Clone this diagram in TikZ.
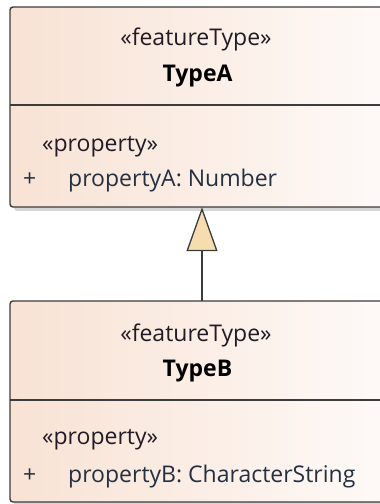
\documentclass[tikz,border=0pt]{standalone}
\usepackage{fontspec}
\setmainfont{Open Sans}
\usetikzlibrary{arrows.meta}
\definecolor{boxL}{HTML}{F8E2D4}
\definecolor{boxR}{HTML}{FEFAF8}
\definecolor{edge}{HTML}{3C3C3C}
\definecolor{triA}{HTML}{F5DDB0}
\definecolor{txt}{HTML}{221A24}
\definecolor{attr}{HTML}{243040}
\tikzset{
  classbox/.style={draw=edge, line width=1.4pt, rounded corners=3pt, left color=boxL, right color=boxR},
  shadowbox/.style={fill=black!16, rounded corners=3pt},
  divider/.style={draw=edge, line width=1.4pt},
  stereo/.style={anchor=base, font=\fontsize{23}{26}\selectfont, text=txt, inner sep=0pt},
  cname/.style={anchor=base, font=\fontsize{23}{26}\selectfont\bfseries, text=black, inner sep=0pt},
  attrtxt/.style={anchor=base west, font=\fontsize{23}{26}\selectfont, text=attr, inner sep=0pt},
  gen/.style={draw=edge, line width=1.3pt, -{Triangle[length=44pt,width=31pt,fill=triA]}}
}
\begin{document}
\begin{tikzpicture}[x=1pt,y=1pt]
\useasboundingbox (0,0) rectangle (380,504);
\clip (0,0) rectangle (380,504);
% shadows
\fill[shadowbox] (14,293) rectangle (394,493);
\fill[shadowbox] (14,-2) rectangle (394,199);
% boxes
\draw[classbox] (10,297) rectangle (390,497);
\draw[classbox] (10,2) rectangle (390,203);
\node[inner sep=0pt, minimum width=380pt, minimum height=200pt] (A) at (200,397) {};
\node[inner sep=0pt, minimum width=380pt, minimum height=201pt] (B) at (200,102.5) {};
\draw[divider] (10,399) -- (390,399);
\draw[divider] (10,104) -- (390,104);
% texts A
\node[stereo] (Ast) at (196,458) {«featureType»};
\node[cname] (An) at (197.5,422) {TypeA};
\node[stereo, anchor=base west] (Aps) at (42,352) {«property»};
\node[attrtxt] (Apl) at (23,317) {+};
\node[attrtxt] (Apa) at (68,317) {propertyA: Number};
% texts B
\node[stereo] (Bst) at (196,162) {«featureType»};
\node[cname] (Bn) at (197.5,127) {TypeB};
\node[stereo, anchor=base west] (Bps) at (42,59) {«property»};
\node[attrtxt] (Bpl) at (23,21) {+};
\node[attrtxt] (Bpa) at (68,21) {propertyB: CharacterString};
% generalization
\coordinate (gx) at (202,0);
\draw[gen] (B.north -| gx) -- (A.south -| gx);
\end{tikzpicture}
\end{document}
